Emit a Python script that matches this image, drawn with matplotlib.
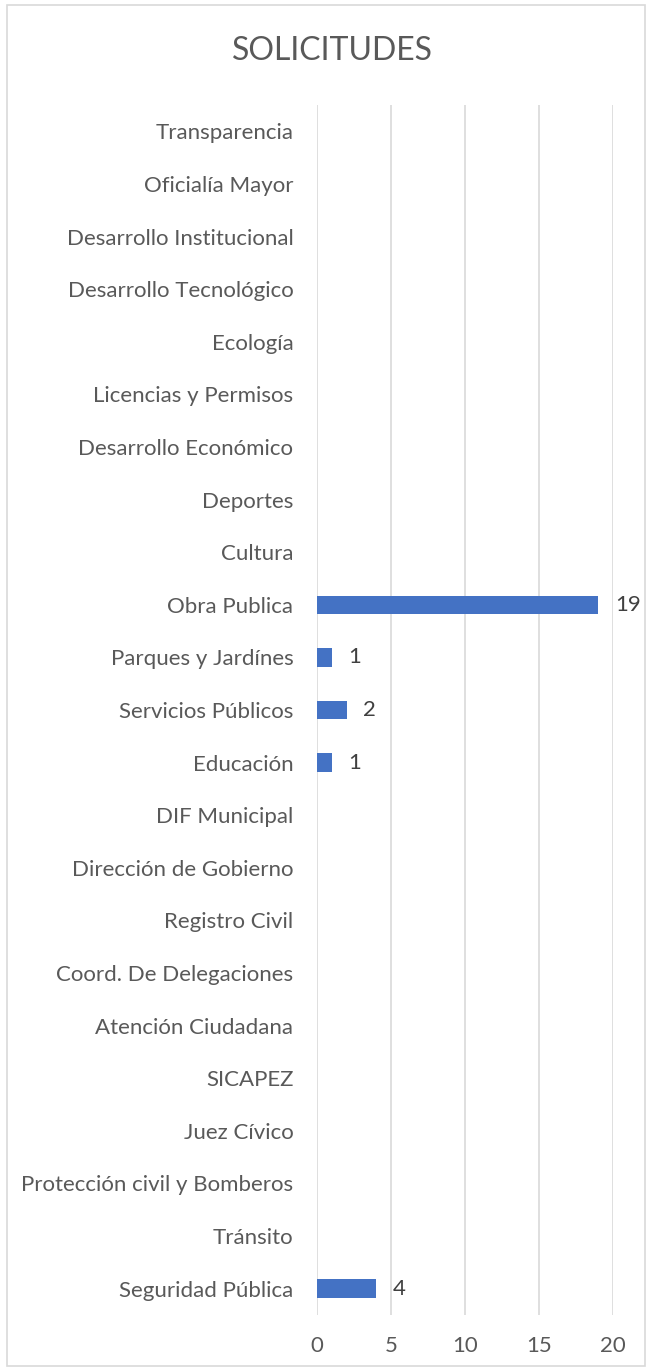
import matplotlib
matplotlib.use("Agg")
import matplotlib.pyplot as plt
from matplotlib.patches import Rectangle

plt.rcParams['font.family'] = ['Lato', 'DejaVu Sans']

categories = [
    "Seguridad Pública", "Tránsito", "Protección civil y Bomberos", "Juez Cívico",
    "SICAPEZ", "Atención Ciudadana", "Coord. De Delegaciones", "Registro Civil",
    "Dirección de Gobierno", "DIF Municipal", "Educación", "Servicios Públicos",
    "Parques y Jardínes", "Obra Publica", "Cultura", "Deportes",
    "Desarrollo Económico", "Licencias y Permisos", "Ecología",
    "Desarrollo Tecnológico", "Desarrollo Institucional", "Oficialía Mayor",
    "Transparencia",
]
values = [4, 0, 0, 0, 0, 0, 0, 0, 0, 0, 1, 2, 1, 19, 0, 0, 0, 0, 0, 0, 0, 0, 0]
x_ticks = [0, 5, 10, 15, 20]
title = "SOLICITUDES"

W, H = 653, 1371
fig = plt.figure(figsize=(W / 100, H / 100), dpi=100)
text_color = "#595959"
grid_color = "#d9d9d9"
bar_color = "#4472C4"

# outer chart-area border
fig.add_artist(Rectangle((7 / W, 1 - 1366 / H), (645 - 7) / W, (1366 - 5) / H,
                         transform=fig.transFigure, fill=False,
                         edgecolor=grid_color, linewidth=1.2))

left, right, top, bottom = 317, 613, 105, 1315
ax = fig.add_axes([left / W, 1 - bottom / H, (right - left) / W, (bottom - top) / H])

y = list(range(len(categories)))
ax.barh(y, values, height=0.35, color=bar_color, zorder=3)
for yi, v in zip(y, values):
    if v > 0:
        ax.annotate(str(v), (v, yi), xytext=(12, 0), textcoords="offset points",
                    va="center", ha="left", fontsize=16, color="#404040")

ax.set_xlim(0, 20)
ax.set_ylim(-0.5, len(categories) - 0.5)
ax.set_xticks(x_ticks)
ax.set_xticklabels([str(t) for t in x_ticks])
ax.set_yticks(y)
ax.set_yticklabels(categories)
ax.tick_params(axis="y", length=0, pad=17, labelsize=16, labelcolor=text_color)
ax.tick_params(axis="x", length=0, pad=15, labelsize=16, labelcolor=text_color)
ax.grid(axis="x", color=grid_color, linewidth=1.2, zorder=0)
for s in ax.spines.values():
    s.set_visible(False)

fig.text(332 / W, 1 - 51 / H, title, ha="center", va="center",
         fontsize=23, color=text_color)

fig.savefig("out.png", dpi=100)
